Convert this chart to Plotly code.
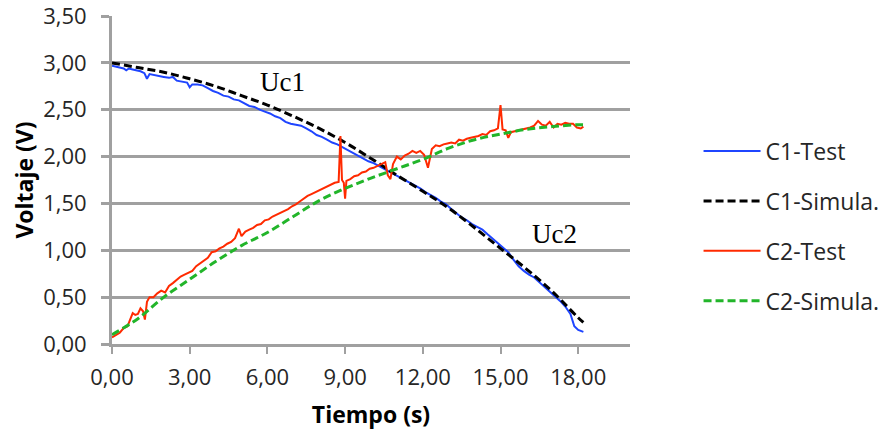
import plotly.graph_objects as go

# Simulated capacitor voltages (1 s steps)
t_sim = [0, 1, 2, 3, 4, 5, 6, 7, 8, 9, 10, 11, 12, 13, 14, 15, 16, 17, 18, 18.2]
c1_sim = [3.00, 2.95, 2.90, 2.83, 2.75, 2.65, 2.55, 2.43, 2.30, 2.15,
          1.98, 1.80, 1.63, 1.45, 1.24, 1.02, 0.80, 0.56, 0.28, 0.23]
c2_sim = [0.10, 0.27, 0.50, 0.69, 0.88, 1.05, 1.19, 1.36, 1.53, 1.66,
          1.77, 1.87, 1.97, 2.09, 2.18, 2.24, 2.29, 2.32, 2.34, 2.34]

# Measured voltage on C1
t_c1 = [0.00, 0.15, 0.30, 0.45, 0.55, 0.65, 0.80, 0.95, 1.10, 1.25, 1.35, 1.45,
        1.60, 1.80, 2.00, 2.20, 2.35, 2.50, 2.70, 2.90, 3.00, 3.10, 3.30, 3.50,
        3.70, 3.90, 4.10, 4.30, 4.50, 4.70, 4.90, 5.10, 5.30, 5.50, 5.70, 5.90,
        6.10, 6.30, 6.50, 6.70, 6.90, 7.10, 7.30, 7.50, 7.70, 7.90, 8.10, 8.30,
        8.50, 8.70, 8.90, 9.10, 9.30, 9.50, 9.70, 9.90, 10.10, 10.30, 10.50,
        10.70, 10.90, 11.10, 11.30, 11.50, 11.70, 11.90, 12.10, 12.30, 12.50,
        12.70, 12.90, 13.10, 13.30, 13.50, 13.70, 13.90, 14.10, 14.30, 14.50,
        14.70, 14.90, 15.10, 15.30, 15.50, 15.70, 15.90, 16.10, 16.30, 16.50,
        16.70, 16.90, 17.10, 17.30, 17.50, 17.70, 17.85, 18.00, 18.20]
c1_test = [2.97, 2.96, 2.95, 2.94, 2.92, 2.94, 2.93, 2.92, 2.91, 2.89, 2.83, 2.88,
           2.87, 2.86, 2.85, 2.84, 2.85, 2.81, 2.80, 2.79, 2.74, 2.77, 2.77, 2.76,
           2.73, 2.70, 2.68, 2.65, 2.64, 2.61, 2.60, 2.57, 2.54, 2.53, 2.50, 2.48,
           2.46, 2.43, 2.41, 2.37, 2.35, 2.34, 2.33, 2.30, 2.27, 2.23, 2.21, 2.18,
           2.15, 2.13, 2.10, 2.07, 2.04, 2.01, 1.98, 1.95, 1.93, 1.90, 1.87,
           1.84, 1.81, 1.78, 1.75, 1.72, 1.69, 1.66, 1.62, 1.59, 1.56,
           1.52, 1.49, 1.44, 1.39, 1.35, 1.32, 1.28, 1.25, 1.22, 1.17,
           1.12, 1.07, 1.03, 0.98, 0.90, 0.83, 0.78, 0.74, 0.71, 0.66,
           0.61, 0.57, 0.52, 0.46, 0.40, 0.32, 0.19, 0.15, 0.13]

# Measured voltage on C2
t_c2 = [0.00, 0.15, 0.30, 0.45, 0.60, 0.70, 0.80, 0.90, 1.00, 1.10, 1.20, 1.27,
        1.35, 1.45, 1.60, 1.75, 1.90, 2.05, 2.20, 2.35, 2.50, 2.65, 2.80, 2.95,
        3.10, 3.25, 3.40, 3.55, 3.70, 3.85, 4.00, 4.15, 4.30, 4.45, 4.60, 4.75,
        4.90, 5.00, 5.15, 5.30, 5.45, 5.60, 5.75, 5.90, 6.05, 6.20, 6.35, 6.50,
        6.65, 6.80, 6.95, 7.10, 7.25, 7.40, 7.55, 7.70, 7.85, 8.00, 8.15, 8.30,
        8.45, 8.60, 8.75, 8.82, 8.88, 8.95, 9.00, 9.05, 9.20, 9.35, 9.50, 9.65,
        9.80, 9.95, 10.10, 10.25, 10.40, 10.55, 10.65, 10.75, 10.85, 11.00,
        11.15, 11.30, 11.45, 11.60, 11.75, 11.90, 12.05, 12.20, 12.35, 12.50,
        12.65, 12.80, 12.95, 13.10, 13.25, 13.40, 13.55, 13.70, 13.85, 14.00,
        14.15, 14.30, 14.45, 14.60, 14.75, 14.90, 15.00, 15.08, 15.20, 15.30,
        15.40, 15.55, 15.70, 15.85, 16.00, 16.15, 16.30, 16.45, 16.60, 16.75,
        16.90, 17.05, 17.20, 17.35, 17.50, 17.65, 17.80, 17.95, 18.10, 18.20]
c2_test = [0.07, 0.10, 0.12, 0.17, 0.19, 0.26, 0.33, 0.31, 0.32, 0.38, 0.35, 0.26,
           0.45, 0.50, 0.50, 0.54, 0.57, 0.55, 0.62, 0.65, 0.69, 0.72, 0.74, 0.76,
           0.78, 0.83, 0.86, 0.89, 0.92, 0.98, 0.99, 1.02, 1.04, 1.07, 1.09, 1.13,
           1.23, 1.15, 1.20, 1.22, 1.24, 1.27, 1.28, 1.32, 1.33, 1.36, 1.38, 1.40,
           1.42, 1.44, 1.47, 1.49, 1.52, 1.55, 1.58, 1.60, 1.62, 1.64, 1.66, 1.68,
           1.70, 1.72, 1.73, 2.22, 1.75, 1.72, 1.55, 1.74, 1.76, 1.79, 1.80, 1.83,
           1.84, 1.87, 1.88, 1.90, 1.92, 1.94, 1.80, 1.76, 1.92, 2.00,
           1.97, 2.01, 2.03, 2.06, 2.04, 2.06, 2.02, 1.88, 2.08, 2.12,
           2.11, 2.13, 2.14, 2.15, 2.14, 2.18, 2.17, 2.19, 2.20, 2.21,
           2.22, 2.24, 2.23, 2.27, 2.28, 2.30, 2.55, 2.29, 2.28, 2.20,
           2.26, 2.27, 2.28, 2.29, 2.30, 2.31, 2.33, 2.38, 2.34, 2.33,
           2.37, 2.31, 2.35, 2.34, 2.36, 2.35, 2.35, 2.31, 2.30, 2.32]

x_ticks = [0, 3, 6, 9, 12, 15, 18]
y_ticks = [0, 0.5, 1.0, 1.5, 2.0, 2.5, 3.0, 3.5]

GRID = "#a0a0a0"
TXT = "#262626"
FONT = "Open Sans"

fig = go.Figure()
fig.add_trace(go.Scatter(x=t_c1, y=c1_test, name="C1-Test", mode="lines",
                         legendgroup="a", line=dict(color="#1f45ff", width=2)))
fig.add_trace(go.Scatter(x=t_sim, y=c1_sim, name="C1-Simula.", mode="lines",
                         legendgroup="b", line=dict(color="#000000", width=3, dash="8px,4px"),
                         line_shape="spline"))
fig.add_trace(go.Scatter(x=t_c2, y=c2_test, name="C2-Test", mode="lines",
                         legendgroup="c", line=dict(color="#ff2a00", width=2)))
fig.add_trace(go.Scatter(x=t_sim, y=c2_sim, name="C2-Simula.", mode="lines",
                         legendgroup="d", line=dict(color="#22b52a", width=3, dash="8px,4px"),
                         line_shape="spline"))

fig.add_annotation(x=6.57, y=2.80, text="Uc1", showarrow=False,
                   font=dict(family="Liberation Serif", size=27, color="#000000"))
fig.add_annotation(x=17.1, y=1.17, text="Uc2", showarrow=False,
                   font=dict(family="Liberation Serif", size=27, color="#000000"))

fig.update_layout(
    width=882, height=432,
    margin=dict(l=112, r=252, t=16, b=88, autoexpand=False),
    paper_bgcolor="white", plot_bgcolor="white",
    separators=",.",
    font=dict(family=FONT, size=22, color=TXT),
    showlegend=True,
    legend=dict(xref="container", yref="container", x=0.792, y=0.70,
                xanchor="left", yanchor="top", tracegroupgap=17,
                itemwidth=57, font=dict(family=FONT, size=23, color=TXT),
                bgcolor="rgba(0,0,0,0)"),
    xaxis=dict(range=[0, 20], tickvals=x_ticks, tickformat=".2f",
               showgrid=False, zeroline=False, showline=True, automargin=False,
               linecolor=GRID, linewidth=3, ticks="outside", ticklen=7,
               tickwidth=2, tickcolor=GRID, ticklabelstandoff=5,
               tickfont=dict(family=FONT, size=22, color=TXT),
               title=dict(text="<b>Tiempo (s)</b>", standoff=17,
                          font=dict(family=FONT, size=23, color="#000000"))),
    yaxis=dict(range=[0, 3.5], tickvals=y_ticks, tickformat=".2f",
               automargin=False, ticklabeloverflow="allow",
               ticklabelstandoff=10,
               showgrid=True, gridcolor=GRID, gridwidth=3, zeroline=False,
               showline=True, linecolor=GRID, linewidth=3, ticks="outside",
               ticklen=8, tickwidth=3, tickcolor=GRID,
               tickfont=dict(family=FONT, size=22, color=TXT),
               title=dict(text="<b>Voltaje (V)</b>", standoff=4,
                          font=dict(family=FONT, size=23, color="#000000"))),
)

fig.write_html("out.html")
